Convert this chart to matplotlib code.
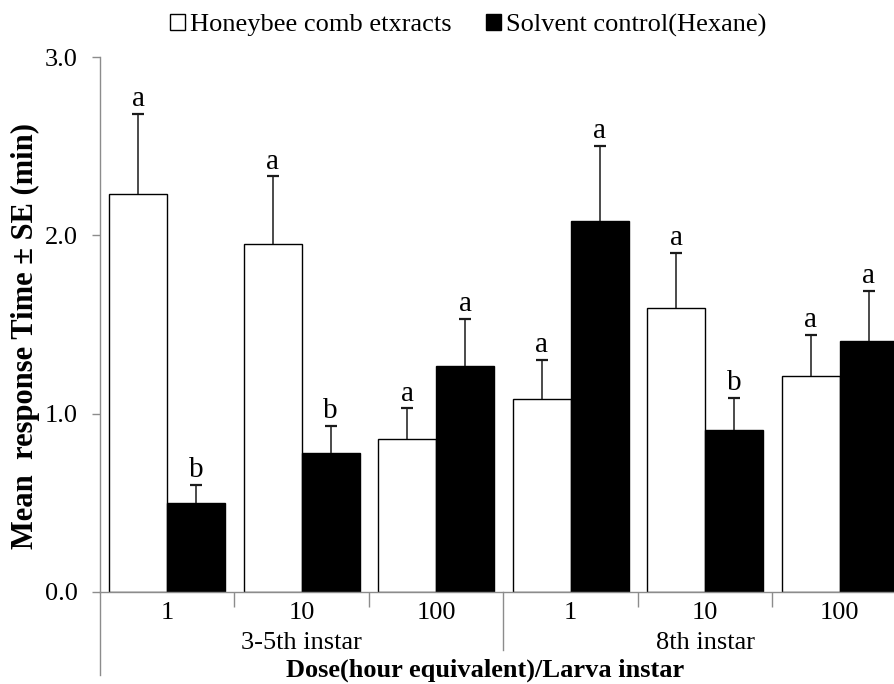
import numpy as np
import matplotlib
matplotlib.use("Agg")
import matplotlib.pyplot as plt
from matplotlib.patches import Patch
import matplotlib.transforms as mtransforms

plt.rcParams['font.family'] = ['Liberation Serif', 'DejaVu Serif']

# data
doses = ['1', '10', '100', '1', '10', '100']
instars = ['3-5th instar', '8th instar']
comb_mean = [2.23, 1.95, 0.86, 1.08, 1.59, 1.21]
comb_se = [0.45, 0.38, 0.17, 0.22, 0.31, 0.23]
hexane_mean = [0.50, 0.78, 1.27, 2.08, 0.91, 1.41]
hexane_se = [0.10, 0.15, 0.26, 0.42, 0.18, 0.28]
comb_letters = ['a', 'a', 'a', 'a', 'a', 'a']
hexane_letters = ['b', 'b', 'a', 'a', 'b', 'a']

axis_grey = '#8c8c8c'

fig = plt.figure(figsize=(8.95, 6.84), dpi=100)
ax = fig.add_axes([100 / 895, 92 / 684, 807 / 895, 535 / 684])

x = np.arange(len(doses))
w = 0.43
ax.bar(x - w / 2, comb_mean, w, color='white', edgecolor='black', linewidth=1.0, zorder=2)
ax.bar(x + w / 2, hexane_mean, w, color='black', edgecolor='black', linewidth=1.0, zorder=2)

# only the upper half of the error bars is drawn, so hide the lower caps
for pos, mean, se in [(x - w / 2, comb_mean, comb_se), (x + w / 2, hexane_mean, hexane_se)]:
    eb = ax.errorbar(pos, mean, yerr=[np.zeros(len(x)), se], fmt='none',
                     ecolor='#1a1a1a', elinewidth=1.1, capsize=4.3, capthick=1.6, zorder=3)
    eb[1][0].set_visible(False)

for i in range(len(x)):
    ax.text(x[i] - w / 2, comb_mean[i] + comb_se[i] + 0.01, comb_letters[i],
            ha='center', va='bottom', fontsize=21)
    ax.text(x[i] + w / 2, hexane_mean[i] + hexane_se[i] + 0.01, hexane_letters[i],
            ha='center', va='bottom', fontsize=21)

ax.set_xlim(-0.5, 5.5)
ax.set_ylim(0, 3.0)
ax.set_yticks([0, 1, 2, 3])
ax.set_yticklabels(['0.0', '1.0', '2.0', '3.0'])
ax.set_xticks(x)
ax.set_xticklabels(doses)
ax.set_xticks([0.5, 1.5, 3.5, 4.5], minor=True)

ax.tick_params(axis='y', direction='out', length=6, width=1, color=axis_grey,
               labelsize=19, pad=10)
ax.tick_params(axis='x', which='major', length=0, labelsize=19, pad=7)
ax.tick_params(axis='x', which='minor', direction='out', length=11, width=1, color=axis_grey)

for side in ['top', 'right']:
    ax.spines[side].set_visible(False)
for side in ['left', 'bottom']:
    ax.spines[side].set_color(axis_grey)
    ax.spines[side].set_linewidth(1.0)

# group separators below the axis
trans = mtransforms.blended_transform_factory(ax.transData, ax.transAxes)
ax.plot([-0.5, -0.5], [0, -0.155], transform=trans, color=axis_grey, lw=1.0, clip_on=False)
ax.plot([2.5, 2.5], [0, -0.108], transform=trans, color=axis_grey, lw=1.0, clip_on=False)
ax.text(1.0, -0.095, instars[0], transform=trans, ha='center', va='center', fontsize=19)
ax.text(4.0, -0.095, instars[1], transform=trans, ha='center', va='center', fontsize=19)

fig.text(485 / 895, 1 - 670 / 684, 'Dose(hour equivalent)/Larva instar',
         ha='center', va='center', fontsize=19, fontweight='bold')
fig.text(25 / 895, 1 - 336 / 684, 'Mean  response Time \u00b1 SE (min)',
         ha='center', va='center', rotation=90, fontsize=22, fontweight='bold')

handles = [Patch(facecolor='white', edgecolor='black', linewidth=1.0),
           Patch(facecolor='black', edgecolor='black', linewidth=1.0)]
fig.legend(handles, ['Honeybee comb etxracts', 'Solvent control(Hexane)'],
           loc='center', bbox_to_anchor=(468 / 895, 1 - 25 / 684), ncol=2,
           frameon=False, fontsize=19, handlelength=0.57, handleheight=0.57,
           handletextpad=0.2, columnspacing=1.3, borderpad=0.1)

plt.savefig('out.png', dpi=100)
